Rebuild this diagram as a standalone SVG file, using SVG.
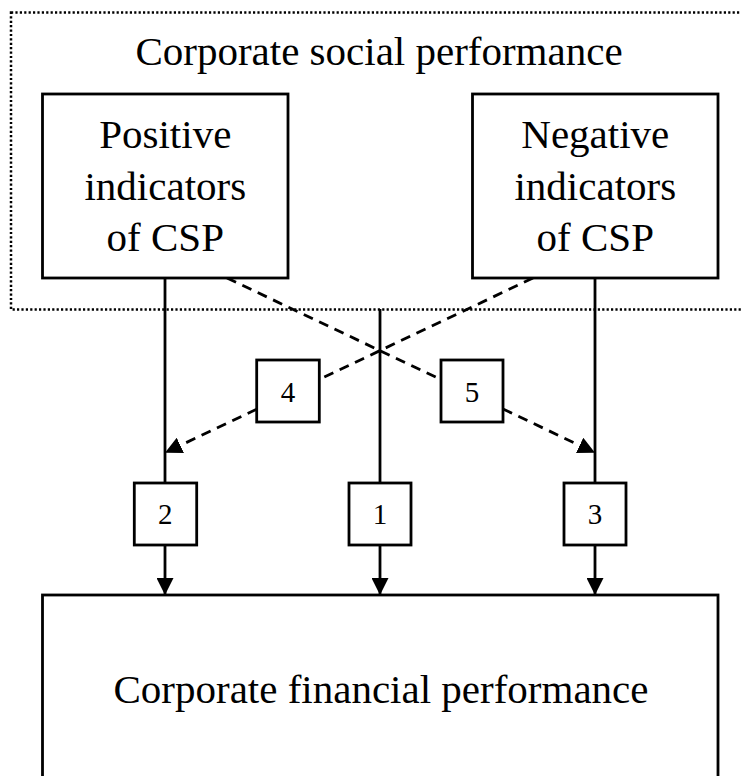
<svg xmlns="http://www.w3.org/2000/svg" width="741" height="776" viewBox="0 0 741 776">
<style>
.box{fill:#fff;stroke:#000;stroke-width:2.8}
.big{font-family:"Liberation Serif","Times New Roman",serif;font-size:41px;fill:#000;text-anchor:middle}
.num{font-family:"Liberation Serif","Times New Roman",serif;font-size:29px;fill:#000;text-anchor:middle}
.solid{fill:none;stroke:#000;stroke-width:2.8}
.dash{fill:none;stroke:#000;stroke-width:2.8;stroke-dasharray:10 7}
</style>
<defs>
<marker id="arr" markerUnits="userSpaceOnUse" markerWidth="18" markerHeight="17" refX="17" refY="8.5" orient="auto" viewBox="0 0 18 17">
<path d="M0,0 L17,8.5 L0,17 z" fill="#000"/>
</marker>
</defs>
<g id="csp-group">
<rect x="11" y="12.5" width="740" height="297" fill="none" stroke="#000" stroke-width="2.5" stroke-dasharray="2.2 2.2"/>
<text class="big" x="379" y="65">Corporate social performance</text>
</g>
<g id="connectors">
<path class="solid" d="M165,278 V483"/>
<path class="solid" d="M165,545 V595" marker-end="url(#arr)"/>
<path class="solid" d="M380,309 V483"/>
<path class="solid" d="M380,545 V595" marker-end="url(#arr)"/>
<path class="solid" d="M595,278 V483"/>
<path class="solid" d="M595,545 V595" marker-end="url(#arr)"/>
<path class="dash" d="M227,278 L441,379.6"/>
<path class="dash" d="M503,409 L595,452.7" marker-end="url(#arr)"/>
<path class="dash" d="M533,278 L319.3,379.4"/>
<path class="dash" d="M256.7,409.2 L165,452.7" marker-end="url(#arr)"/>
</g>
<g id="positive">
<rect class="box" x="42.5" y="94" width="245.5" height="184"/>
<text class="big" x="165.3" y="148">Positive</text>
<text class="big" x="165.3" y="200">indicators</text>
<text class="big" x="165.3" y="251">of CSP</text>
</g>
<g id="negative">
<rect class="box" x="472.5" y="94" width="245.5" height="184"/>
<text class="big" x="595.3" y="148">Negative</text>
<text class="big" x="595.3" y="200">indicators</text>
<text class="big" x="595.3" y="251">of CSP</text>
</g>
<g id="n4">
<rect class="box" x="256.7" y="360" width="62.6" height="62"/>
<text class="num" x="288" y="401.5">4</text>
</g>
<g id="n5">
<rect class="box" x="441" y="360" width="62" height="62"/>
<text class="num" x="472" y="401.5">5</text>
</g>
<g id="n2">
<rect class="box" x="134.3" y="483" width="62.4" height="62"/>
<text class="num" x="165.3" y="524">2</text>
</g>
<g id="n1">
<rect class="box" x="349" y="483" width="62" height="62"/>
<text class="num" x="380" y="524">1</text>
</g>
<g id="n3">
<rect class="box" x="564" y="483" width="62" height="62"/>
<text class="num" x="595" y="524">3</text>
</g>
<g id="cfp">
<rect class="box" x="42.5" y="595" width="675.5" height="220"/>
<text class="big" x="381" y="703">Corporate financial performance</text>
</g>
</svg>
